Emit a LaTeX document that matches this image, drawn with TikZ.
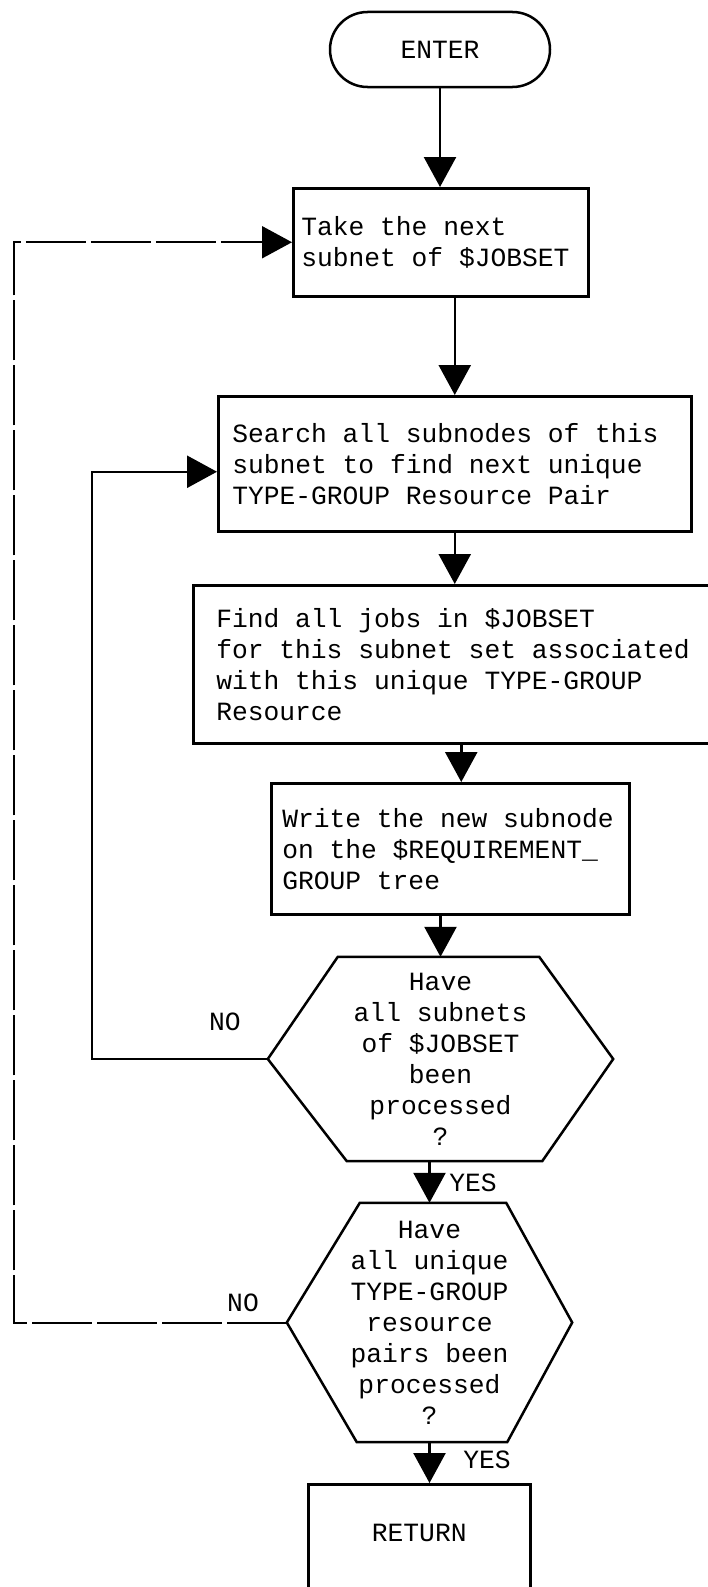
\documentclass[tikz,border=0pt]{standalone}
\usepackage{fontspec}
\setmainfont{Liberation Mono}
\usepackage{tikz}
\usetikzlibrary{arrows.meta, positioning, calc}

\begin{document}
\begin{tikzpicture}[x=1pt, y=-1pt,
        every node/.style={font=\fontsize{26.3}{31}\selectfont},
        line/.style={line width=2.5pt},
        arr/.style={line width=2.5pt, -{Triangle[width=32pt, length=30pt]}},
        procbox/.style={draw, rectangle, line width=2.5pt, anchor=north west, align=left,
            execute at begin node={\spaceskip=\fontdimen2\font\relax}}]
        \useasboundingbox (0,0) rectangle (707,1587);

        % Inicio
        \node[draw, rectangle, line width=2.5pt, rounded corners=37.5pt, minimum width=220pt, minimum height=75pt] (enter) at (440,49.5) {ENTER};

        % Caixas de processo
        \node[procbox, inner xsep=8pt, text width=279pt, minimum height=108pt] (take) at (292,187) {Take the next\\subnet of \$JOBSET};
        \node[procbox, inner xsep=14pt, text width=445pt, minimum height=135pt] (search) at (217,395) {Search all subnodes of this\\subnet to find next unique\\TYPE-GROUP Resource Pair};
        \node[procbox, inner xsep=23pt, text width=502pt, minimum height=158pt] (find) at (192,584) {Find all jobs in \$JOBSET\\for this subnet set associated\\with this unique TYPE-GROUP\\Resource};
        \node[procbox, inner xsep=11pt, text width=336pt, minimum height=131pt] (write) at (270,782) {Write the new subnode\\on the \$REQUIREMENT\_\\GROUP tree};

        % Decisoes (hexagonos)
        \node[rectangle, align=center, minimum width=345pt, minimum height=204pt] (subq) at (440.5,1059) {Have\\all subnets\\of \$JOBSET\\been\\processed\\?};
        \draw[line] (subq.west) -- ($(subq.north west)+(70,0)$) -- ($(subq.north east)+(-74,0)$) -- (subq.east) -- ($(subq.south east)+(-71,0)$) -- ($(subq.south west)+(79,0)$) -- cycle;
        \node[rectangle, align=center, minimum width=285pt, minimum height=239pt] (allq) at (429.5,1322.5) {Have\\all unique\\TYPE-GROUP\\resource\\pairs been\\processed\\?};
        \draw[line] (allq.west) -- ($(allq.north west)+(73,0)$) -- ($(allq.north east)+(-66,0)$) -- (allq.east) -- ($(allq.south east)+(-65,0)$) -- ($(allq.south west)+(70,0)$) -- cycle;

        % Fim
        \node[procbox, minimum width=222pt, minimum height=125pt, text depth=27pt, align=center] (ret) at (307,1483) {RETURN};

        % Rotulos
        \node (no1) at (225,1022) {NO};
        \node (no2) at (243,1303) {NO};
        \node (yes1) at (473,1183) {YES};
        \node (yes2) at (487,1460) {YES};

        % Setas
        \draw[arr] (enter.south) -- (enter |- take.north);
        \draw[arr] (search.north |- take.south) -- (search.north);
        \draw[arr] (search.south) -- (search.south |- find.north);
        \draw[arr] ([xshift=11pt]write.north |- find.south) -- ([xshift=11pt]write.north);
        \draw[arr] (subq.north |- write.south) -- (subq.north);
        \draw[arr] (allq.north |- subq.south) -- (allq.north);
        \draw[arr] (allq.south) -- (allq.south |- ret.north);

        % Lacos NO
        \coordinate (loopin) at (92,0);
        \coordinate (loopout) at (14,0);
        \draw[arr] (subq.west) -- (subq.west -| loopin) |- ([yshift=-8pt]search.west);
        \draw[arr, line width=2pt, dash pattern=on 60pt off 5pt] (allq.west) -- (allq.west -| loopout) |- (take.west);
    \end{tikzpicture}
\end{document}
